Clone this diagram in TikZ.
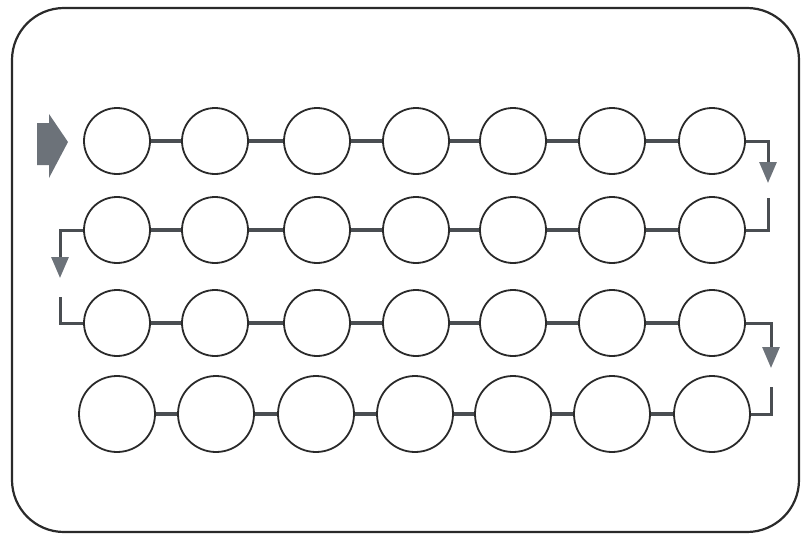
\documentclass[tikz,border=0pt]{standalone}
\usetikzlibrary{arrows.meta}
\definecolor{ink}{HTML}{2A2A2A}
\definecolor{link}{HTML}{4A4E52}
\definecolor{tipc}{HTML}{6C7279}
\begin{document}
\begin{tikzpicture}[x=1pt,y=-1pt,
  bead/.style={circle,draw=ink,line width=1.8pt,inner sep=0pt,minimum size=66pt},
  bigbead/.style={bead,minimum size=76pt},
  link/.style={draw=link,line width=3.5pt},
  turn/.style={draw=link,line width=3pt},
  turnarrow/.style={turn,-{Triangle[width=17pt,length=21pt,fill=tipc,color=tipc]}}]
\useasboundingbox (0,0) rectangle (801,535);
\draw[ink,line width=2.2pt,rounded corners=52pt] (12,8) rectangle (799,532);
% beads
\foreach \x [count=\i] in {117,215,317,416,513,612,712}{
  \node[bead] (a\i) at (\x,141) {};
  \node[bead] (b\i) at (\x,230) {};
  \node[bead] (c\i) at (\x,323) {};
}
\foreach \x [count=\i] in {117,216,316,415,513,612,712}{
  \node[bigbead] (d\i) at (\x,414) {};
}
% links
\foreach \r in {a,b,c,d}{
  \foreach \i [evaluate=\i as \j using int(\i+1)] in {1,...,6}{
    \path[link] (\r\i.east) -- (\r\j.west);
  }
}
% entry arrow
\fill[tipc] (37,123) -- (49,123) -- (49,114) -- (68,142) -- (49,178) -- (49,165) -- (37,165) -- cycle;
% turns
\coordinate (t1) at (768,183);
\coordinate (t1b) at (768,198);
\path[turnarrow] (a7.east) -| (t1);
\path[turn] (t1b) |- (b7.east);
\coordinate (t2) at (60,278);
\coordinate (t2b) at (60,297);
\path[turnarrow] (b1.west) -| (t2);
\path[turn] (t2b) |- (c1.west);
\coordinate (t3) at (771,368);
\coordinate (t3b) at (771,387);
\path[turnarrow] (c7.east) -| (t3);
\path[turn] (t3b) |- (d7.east);
\end{tikzpicture}
\end{document}
